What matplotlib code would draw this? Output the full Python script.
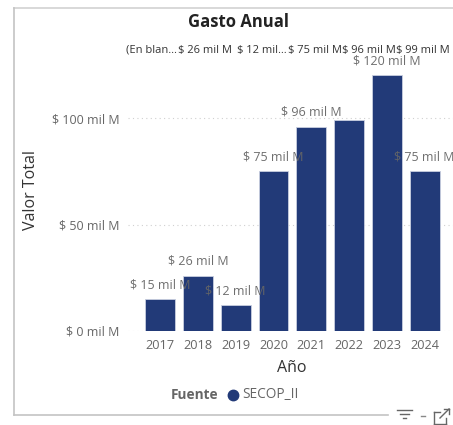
import matplotlib
matplotlib.use("Agg")
import matplotlib.pyplot as plt
from matplotlib.lines import Line2D

years = ["2017", "2018", "2019", "2020", "2021", "2022", "2023", "2024"]
values = [15, 26, 12, 75, 96, 99, 120, 75]
bar_labels = ["$ 15 mil M", "$ 26 mil M", "$ 12 mil M", "$ 75 mil M", "$ 96 mil M", None, "$ 120 mil M", "$ 75 mil M"]
top_labels = ["(En blan…", "$ 26 mil M", "$ 12 mil…", "$ 75 mil M", "$ 96 mil M", "$ 99 mil M"]
yticks = [0, 50, 100]
ytick_labels = ["$ 0 mil M", "$ 50 mil M", "$ 100 mil M"]

W, H = 453, 425
BLUE = "#223a78"
GREY = "#666666"
FONT = "Open Sans"
top_label_px = [151, 205, 262, 315, 369, 423]

plt.rcParams["font.family"] = [FONT, "DejaVu Sans"]
fig = plt.figure(figsize=(W / 100, H / 100), dpi=100)
ax = fig.add_axes([128 / W, 1 - 331 / H, (W - 128) / W, (331 - 40) / H])
ax.set_xlim(-0.85, 7.75)
ax.set_ylim(0, 291 / 2.13)
ax.patch.set_alpha(0)

ax.bar(range(len(years)), values, width=0.79, color=BLUE, edgecolor="#c9cfe0", linewidth=0.6, zorder=3)
for i, (v, lab) in enumerate(zip(values, bar_labels)):
    if lab:
        ax.annotate(lab, (i, v), xytext=(0, 5.5), textcoords="offset points", ha="center", va="bottom",
                    fontsize=9, color=GREY, alpha=0.95, annotation_clip=False, zorder=4)

ax.set_xticks(range(len(years)), years)
ax.set_yticks(yticks, ytick_labels)
ax.tick_params(axis="x", length=0, labelsize=9.2, labelcolor=GREY, pad=6)
ax.tick_params(axis="y", length=0, labelsize=9, labelcolor=GREY, pad=6)
ax.grid(axis="y", color="#d0d0d0", linestyle=(0, (1, 3)), linewidth=0.8, zorder=0)
ax.set_axisbelow(True)
for s in ax.spines.values():
    s.set_visible(False)

fig.text(31 / W, 1 - 190 / H, "Valor Total", rotation=90, ha="center", va="center", fontsize=11.5, color="#333333")
fig.text(292 / W, 1 - 368 / H, "Año", ha="center", va="center", fontsize=11.5, color="#333333")
fig.text(238 / W, 1 - 22 / H, "Gasto Anual", ha="center", va="center", fontsize=12, fontweight="bold", color="#222222")

for px, lab in zip(top_label_px, top_labels):
    fig.text(px / W, 1 - 50.5 / H, lab, ha="center", va="center", fontsize=8, color="#333333")

fig.text(218 / W, 1 - 395 / H, "Fuente", ha="right", va="center", fontsize=9.8, fontweight="bold", color=GREY)
fig.text(242 / W, 1 - 395 / H, "SECOP_II", ha="left", va="center", fontsize=9.8, color=GREY)
fig.add_artist(Line2D([233 / W], [1 - 395 / H], marker="o", markersize=7.5, color=BLUE, transform=fig.transFigure))

def line(x0, y0, x1, y1, c="#c4c4c4", lw=1.2):
    fig.add_artist(Line2D([x0 / W, x1 / W], [1 - y0 / H, 1 - y1 / H], color=c, lw=lw, transform=fig.transFigure))

line(14, 8, 453, 8, "#d8d8d8", 1.4)
line(14, 8, 14, 415)
line(14, 415, 388, 415)
# header icons at the bottom right
line(397, 410, 412, 410, "#666666", 1)
line(400, 414, 409, 414, "#666666", 1)
line(403, 418, 406, 418, "#666666", 1)
line(421, 416, 425, 416, "#888888", 1)
line(434, 412, 434, 424, "#666666", 1)
line(434, 412, 440, 412, "#666666", 1)
line(434, 424, 446, 424, "#666666", 1)
line(446, 418, 446, 424, "#666666", 1)
line(440, 418, 449, 409, "#666666", 1)
line(444, 409, 449, 409, "#666666", 1)
line(449, 409, 449, 414, "#666666", 1)

fig.savefig("out.png", dpi=100)
